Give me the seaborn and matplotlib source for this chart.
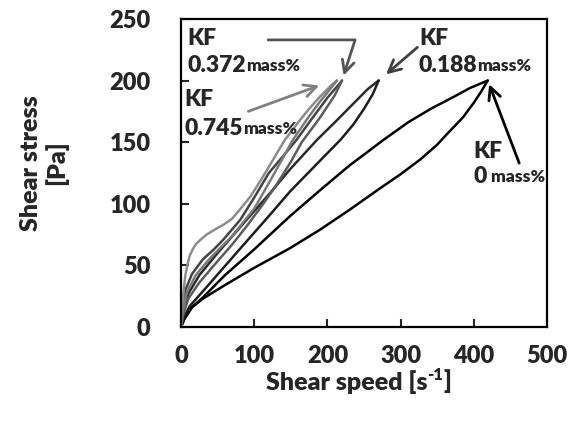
import numpy as np
import pandas as pd
import matplotlib
matplotlib.use('Agg')
import matplotlib.pyplot as plt
import seaborn as sns

# ==========================================
# DATA
# ==========================================
# KF 0 mass%
kf0_up_x = [0, 5, 15, 30, 60, 100, 149, 190, 230, 277, 310, 341, 370, 395, 419]
kf0_up_y = [0, 7, 16, 24, 42, 63, 90, 111, 131, 152, 166, 177, 186, 194, 200]
kf0_down_x = [0, 5, 15, 30, 60, 100, 149, 190, 230, 273, 300, 327, 350, 364,
              385, 400, 410, 419]
kf0_down_y = [0, 7, 16, 23, 34, 48, 64, 79, 95, 113, 124, 136, 148, 157,
              170, 182, 191, 200]

# KF 0.188 mass%
kf188_up_x = [0, 3, 10, 25, 50, 75, 100, 125, 149, 186, 210, 235, 255, 270]
kf188_up_y = [0, 12, 27, 42, 60, 77, 94, 111, 128, 152, 166, 181, 193, 200]
kf188_down_x = [0, 4, 12, 30, 55, 80, 120, 149, 190, 218, 235, 250, 262, 270]
kf188_down_y = [0, 8, 17, 29, 46, 63, 90, 110, 135, 152, 164, 177, 189, 200]

# KF 0.372 mass%
kf372_up_x = [0, 2, 6, 15, 30, 45, 58, 81, 100, 120, 140, 158, 180, 200, 220]
kf372_up_y = [0, 14, 30, 43, 55, 63, 71, 87, 105, 125, 139, 152, 170, 186, 200]
kf372_down_x = [0, 3, 10, 25, 45, 70, 90, 110, 130, 150, 165, 190, 210, 220]
kf372_down_y = [0, 10, 23, 36, 50, 67, 82, 98, 115, 134, 150, 170, 188, 200]

# KF 0.745 mass%
kf745_up_x = [0, 2, 4, 6, 9, 12, 16, 20, 27, 35, 46, 58, 70, 80, 95, 110, 126,
              142, 160, 175, 190, 205, 213]
kf745_up_y = [0, 18, 32, 42, 51, 58, 63, 67, 71, 75, 79, 83, 88, 95, 106, 120,
              136, 152, 166, 177, 187, 196, 200]
kf745_down_x = [0, 2, 8, 20, 40, 70, 100, 125, 153, 175, 190, 205, 213]
kf745_down_y = [0, 12, 28, 42, 56, 74, 96, 122, 152, 171, 183, 194, 200]

curves = {
    'kf0_up': (kf0_up_x, kf0_up_y),
    'kf0_down': (kf0_down_x, kf0_down_y),
    'kf188_up': (kf188_up_x, kf188_up_y),
    'kf188_down': (kf188_down_x, kf188_down_y),
    'kf372_up': (kf372_up_x, kf372_up_y),
    'kf372_down': (kf372_down_x, kf372_down_y),
    'kf745_up': (kf745_up_x, kf745_up_y),
    'kf745_down': (kf745_down_x, kf745_down_y),
}
colors = {
    'kf0_up': '#000000', 'kf0_down': '#000000',
    'kf188_up': '#2a2a2a', 'kf188_down': '#1e1e1e',
    'kf372_up': '#444444', 'kf372_down': '#5c5c5c',
    'kf745_up': '#8c8c8c', 'kf745_down': '#7a7a7a',
}

rows = []
for name, (xs, ys) in curves.items():
    for i, (xv, yv) in enumerate(zip(xs, ys)):
        rows.append({'curve': name, 'order': i, 'rate': xv, 'stress': yv})
df = pd.DataFrame(rows)

# ==========================================
# PLOT
# ==========================================
sns.set_style('white')
plt.rcParams['font.family'] = ['Lato', 'DejaVu Sans']
W = 'heavy'

fig = plt.figure(figsize=(5.74, 4.21), dpi=100)
ax = fig.add_axes([0.3153, 0.2233, 0.6377, 0.7317])

sns.lineplot(data=df, x='rate', y='stress', hue='curve', palette=colors,
             sort=False, estimator=None, units='curve', legend=False,
             lw=1.8, ax=ax)

ax.set_xlim(0, 500)
ax.set_ylim(0, 250)
ax.set_xticks(np.arange(0, 501, 100))
ax.set_yticks(np.arange(0, 251, 50))
ax.tick_params(direction='in', length=6, width=1.5, labelsize=17,
               top=False, right=False, bottom=True, left=True)
ax.tick_params(axis='y', pad=22)
ax.tick_params(axis='x', pad=13)
for lab in ax.get_xticklabels() + ax.get_yticklabels():
    lab.set_fontweight(W)
for sp in ax.spines.values():
    sp.set_visible(True)
    sp.set_linewidth(1.6)
    sp.set_color('black')
ax.set_xlabel('')
ax.set_ylabel('')

# axis labels
fig.text(44 / 574, 1 - 163 / 421, 'Shear stress\n[Pa]', rotation=90,
         ha='center', va='center', multialignment='center',
         fontsize=18, fontweight=W, linespacing=1.1)
t = fig.text(266 / 574, 1 - 390 / 421, 'Shear speed [s', ha='left',
             va='baseline', fontsize=18, fontweight=W)
t2 = ax.annotate('-1', xy=(1, 0.45), xycoords=t, va='bottom', ha='left',
                 fontsize=12, fontweight=W)
ax.annotate(']', xy=(1, 0), xycoords=t2, va='bottom', ha='left',
            fontsize=18, fontweight=W, xytext=(0, -0.45 * 18 * 0.9),
            textcoords='offset points')


# annotations
def label(x, y_kf, y_num, num, unit='mass%'):
    ax.text(x, y_kf, 'KF', fontsize=16.5, fontweight=W, va='baseline')
    n = ax.text(x, y_num, num, fontsize=16.5, fontweight=W, va='baseline')
    ax.annotate(unit, xy=(1, 0), xycoords=n, va='bottom', ha='left',
                fontsize=12.5, fontweight=W,
                xytext=(0, 1.4), textcoords='offset points')


label(9, 229, 207, '0.372')
label(5, 179, 156, '0.745')
label(325, 229, 207, '0.188')
label(400, 137, 117, '0', unit=' mass%')

ax.annotate('', xy=(222, 204), xytext=(119, 233),
            arrowprops=dict(arrowstyle='->', color='#555555', lw=2,
                            mutation_scale=22, shrinkA=0, shrinkB=0,
                            connectionstyle='angle,angleA=0,angleB=72,rad=0'))
ax.annotate('', xy=(189, 196), xytext=(92, 175),
            arrowprops=dict(arrowstyle='->', color='#808080', lw=2,
                            mutation_scale=22, shrinkA=0, shrinkB=0))
ax.annotate('', xy=(280, 205), xytext=(323, 227),
            arrowprops=dict(arrowstyle='->', color='#404040', lw=2,
                            mutation_scale=22, shrinkA=0, shrinkB=0))
ax.annotate('', xy=(421, 197), xytext=(462, 133),
            arrowprops=dict(arrowstyle='->', color='#000000', lw=2,
                            mutation_scale=22, shrinkA=0, shrinkB=0))

fig.savefig('out.png', dpi=100)
